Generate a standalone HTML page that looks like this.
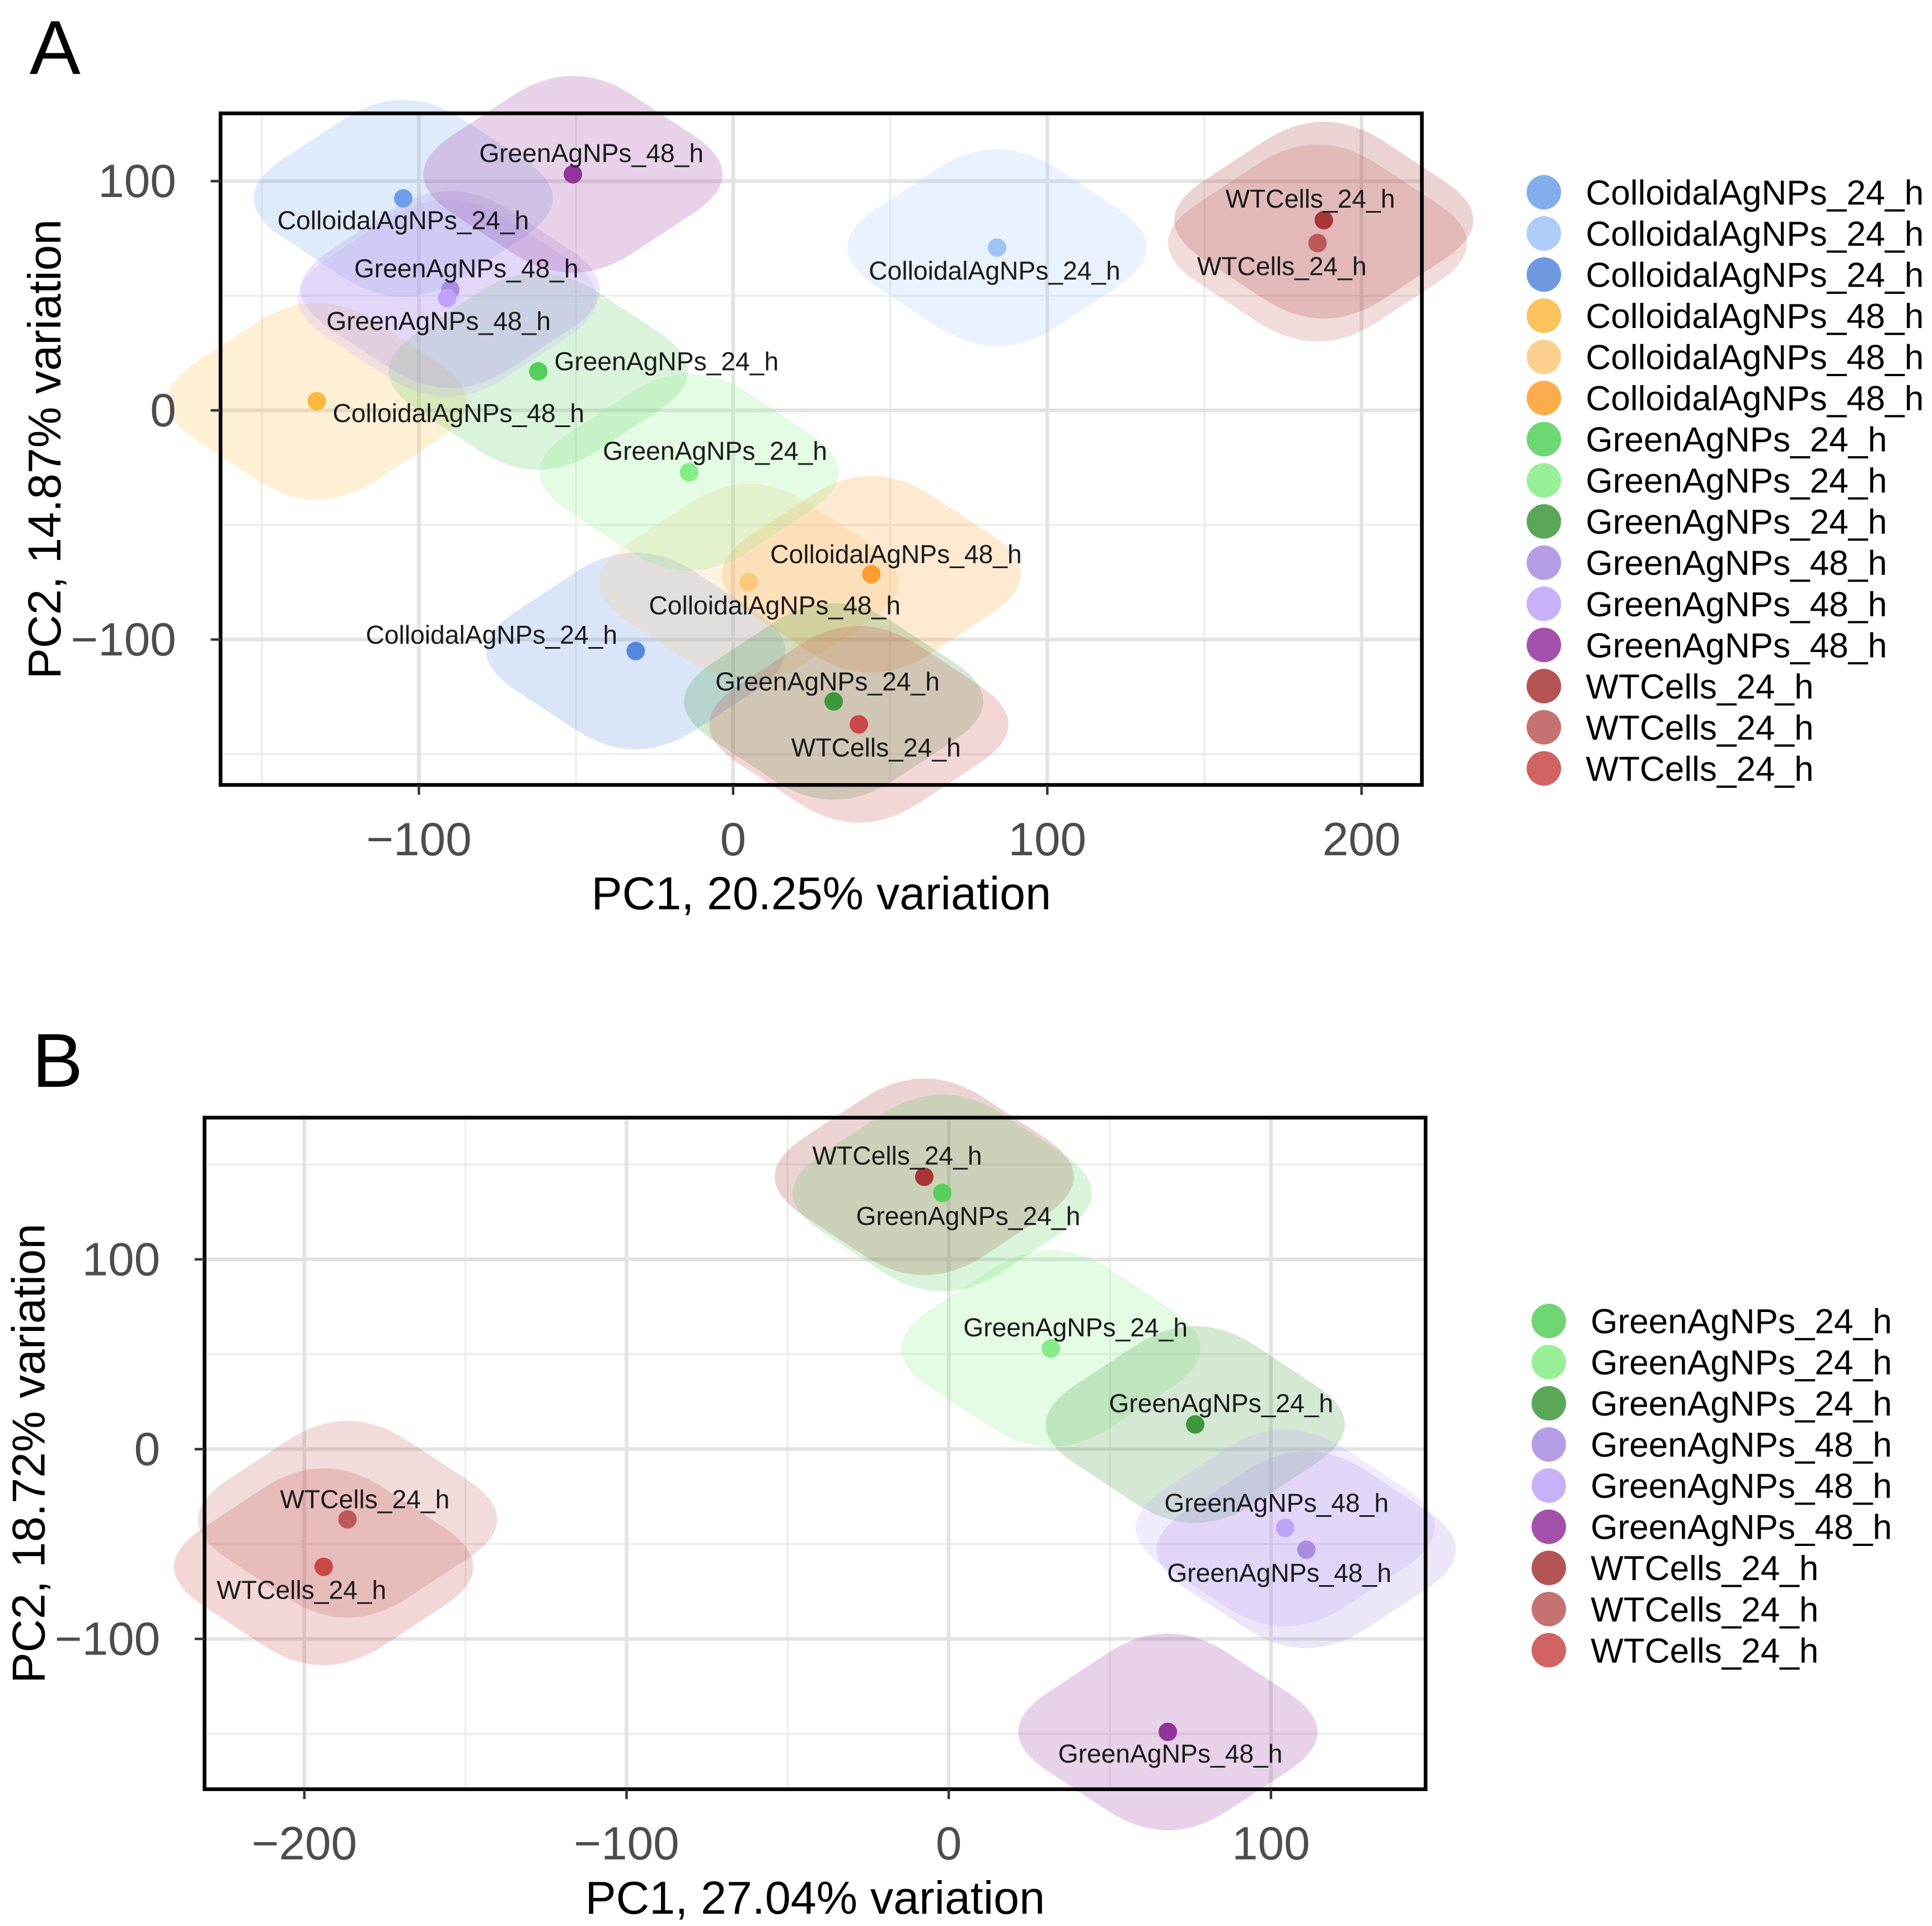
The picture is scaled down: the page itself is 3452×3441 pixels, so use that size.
<!DOCTYPE html>
<html><head><meta charset="utf-8"><style>
html,body{margin:0;padding:0;background:#fff;}
svg{display:block;font-family:"Liberation Sans",Arial,sans-serif;}
</style></head><body>
<svg id="chart" width="3452" height="3441" viewBox="0 0 1568 1563" xmlns="http://www.w3.org/2000/svg"></svg>
<script>
// Panel A data
const aGroups=["ColloidalAgNPs_24_h","ColloidalAgNPs_24_h","ColloidalAgNPs_24_h","ColloidalAgNPs_48_h","ColloidalAgNPs_48_h","ColloidalAgNPs_48_h","GreenAgNPs_24_h","GreenAgNPs_24_h","GreenAgNPs_24_h","GreenAgNPs_48_h","GreenAgNPs_48_h","GreenAgNPs_48_h","WTCells_24_h","WTCells_24_h","WTCells_24_h"];
const aColors=["#6f9fe8","#9fc3f5","#5688dd","#f9b93f","#fcc97c","#fa9f2e","#55cf5a","#86ec86","#3d983d","#a88de0","#bfa3f9","#93339c","#a83636","#bd5959","#c94848"];
const aPC1=[-105,84,-31,-132.5,5,44,-62,-14,32,-90,-91,-51,188,186,40];
const aPC2=[92.5,71,-105,4,-75,-71.5,17,-27,-127,52.7,49,103,83,73,-137];
const aLabDx=[0,-2,-117,115,21,20,104,21,-5,13,-7,15,-11,-29,14];
const aLabDy=[18,19,-13,10,19,-16,-8,-17,-16,-17,19,-17,-17,19,19];
const aXTicks=[-100,0,100,200];
const aYTicks=[100,0,-100];
// Panel B data
const bGroups=["WTCells_24_h","GreenAgNPs_24_h","GreenAgNPs_24_h","GreenAgNPs_24_h","GreenAgNPs_48_h","GreenAgNPs_48_h","GreenAgNPs_48_h","WTCells_24_h","WTCells_24_h"];
const bColorIdx=[6,0,1,2,4,3,5,7,8];
const bLegendColors=["#55cf5a","#86ec86","#3d983d","#a88de0","#bfa3f9","#93339c","#a83636","#bd5959","#c94848"];
const bLegendLabels=["GreenAgNPs_24_h","GreenAgNPs_24_h","GreenAgNPs_24_h","GreenAgNPs_48_h","GreenAgNPs_48_h","GreenAgNPs_48_h","WTCells_24_h","WTCells_24_h","WTCells_24_h"];
const bPC1=[-7.6,-2,31.7,76.5,104.4,111,68,-186.6,-194];
const bPC2=[143.5,135,53,13,-41.5,-53,-149,-37,-62];
const bLabDx=[-22,21,20,21,-7,-22,2,14,-18];
const bLabDy=[-17,19,-17,-17,-20,19,18,-16,19];
const bXTicks=[-200,-100,0,100];
const bYTicks=[100,0,-100];

const svg=document.getElementById('chart');
const NS="http://www.w3.org/2000/svg";
function mk(tag,attrs,parent,text){const e=document.createElementNS(NS,tag);for(const k in attrs)e.setAttribute(k,attrs[k]);if(text!==undefined)e.textContent=text;(parent||svg).appendChild(e);return e;}
function diamond(cx,cy,hw,hh,r){
  const t=r/Math.hypot(hw,hh);
  const P=[[cx,cy-hh],[cx+hw,cy],[cx,cy+hh],[cx-hw,cy]];
  let d="";
  for(let i=0;i<4;i++){const p=P[i],n=P[(i+1)%4],pr=P[(i+3)%4];
    const a=[p[0]+(pr[0]-p[0])*t*1.4,p[1]+(pr[1]-p[1])*t*1.4];
    const b=[p[0]+(n[0]-p[0])*t*1.4,p[1]+(n[1]-p[1])*t*1.4];
    d+=(i===0?"M":"L")+a[0]+","+a[1]+" Q"+p[0]+","+p[1]+" "+b[0]+","+b[1]+" ";}
  return d+"Z";
}
function panel(cfg){
  const g=mk('g',{});
  
  
  const X=v=>cfg.x0+v*cfg.sx, Y=v=>cfg.y0-v*cfg.sy;
  const grid=mk('g',{},g);
  
  
  cfg.xMinor.forEach(v=>mk('line',{x1:X(v),x2:X(v),y1:cfg.T,y2:cfg.B,stroke:'#ececec','stroke-width':1.5},grid));
  cfg.yMinor.forEach(v=>mk('line',{y1:Y(v),y2:Y(v),x1:cfg.L,x2:cfg.R,stroke:'#ececec','stroke-width':1.5},grid));
  cfg.xt.forEach(v=>mk('line',{x1:X(v),x2:X(v),y1:cfg.T,y2:cfg.B,stroke:'#e3e3e3','stroke-width':3},grid));
  cfg.yt.forEach(v=>mk('line',{y1:Y(v),y2:Y(v),x1:cfg.L,x2:cfg.R,stroke:'#e3e3e3','stroke-width':3},grid));
  const marks=mk('g',{},g);
  cfg.px.forEach((v,i)=>{const p=mk('path',{d:diamond(X(v),Y(cfg.py[i]),146,96,42),fill:cfg.col(i),'fill-opacity':0.22},marks);
    
    });
  cfg.px.forEach((v,i)=>{const c=mk('circle',{cx:X(v),cy:Y(cfg.py[i]),r:7.5,fill:cfg.col(i)},g);
    
    });
  cfg.px.forEach((v,i)=>{const t=mk('text',{x:X(v)+cfg.dx[i],y:Y(cfg.py[i])+cfg.dy[i]+7,'text-anchor':'middle','font-size':21,fill:'#1a1a1a'},g,cfg.groups[i]);
    
    });
  mk('rect',{x:cfg.L,y:cfg.T,width:cfg.R-cfg.L,height:cfg.B-cfg.T,fill:'none',stroke:'#000','stroke-width':3},g);
  cfg.xt.forEach(v=>{mk('line',{x1:X(v),x2:X(v),y1:cfg.B,y2:cfg.B+8,stroke:'#333','stroke-width':2},g);
    const t=mk('text',{x:X(v),y:cfg.B+57,'text-anchor':'middle','font-size':38,fill:'#4d4d4d'},g,v<0?'\u2212'+(-v):String(v));
    
    });
  cfg.yt.forEach(v=>{mk('line',{x1:cfg.L-8,x2:cfg.L,y1:Y(v),y2:Y(v),stroke:'#333','stroke-width':2},g);
    const t=mk('text',{x:cfg.L-36,y:Y(v)+13,'text-anchor':'end','font-size':38,fill:'#4d4d4d'},g,v<0?'\u2212'+(-v):String(v));
    
    });
  const xt=mk('text',{x:(cfg.L+cfg.R)/2,y:cfg.xtY,'text-anchor':'middle','font-size':37.5,fill:'#000'},g,cfg.xTitle);
  
  
  const yt=mk('text',{x:0,y:0,transform:`translate(${cfg.ytX},${(cfg.T+cfg.B)/2}) rotate(-90)`,'text-anchor':'middle','font-size':37.5,fill:'#000'},g,cfg.yTitle);
  
  
  const pl=mk('text',{x:cfg.letterX,y:cfg.letterY,'font-size':62,fill:'#000'},g,cfg.letter);
  
  
  const lg=mk('g',{},g);
  
  
  cfg.legLabels.forEach((s,i)=>{const y=cfg.legY+i*33.4;
    const c=mk('circle',{cx:cfg.legX,cy:y,r:14,fill:cfg.legColors[i],'fill-opacity':0.85},lg);
    
    
    const t=mk('text',{x:cfg.legX+34,y:y+10,'font-size':28.2,fill:'#000'},lg,s);
    
    });
}
panel({name:'panel-a',L:179,R:1154,T:92,B:637,x0:595,sx:2.55,y0:333,sy:1.86,
  xt:aXTicks,yt:aYTicks,xMinor:[-150,-50,50,150],yMinor:[50,-50,-150],
  px:aPC1,py:aPC2,dx:aLabDx,dy:aLabDy,groups:aGroups,col:i=>aColors[i],
  xTitle:'PC1, 20.25% variation',yTitle:'PC2, 14.87% variation',xtY:738,ytX:49,
  letter:'A',letterX:24,letterY:60,legX:1253,legY:156,legLabels:aGroups,legColors:aColors});
panel({name:'panel-b',L:166,R:1157,T:907,B:1452,x0:770,sx:2.615,y0:1176,sy:1.54,
  xt:bXTicks,yt:bYTicks,xMinor:[-150,-50,50],yMinor:[150,50,-50,-150],
  px:bPC1,py:bPC2,dx:bLabDx,dy:bLabDy,groups:bGroups,col:i=>bLegendColors[bColorIdx[i]],
  xTitle:'PC1, 27.04% variation',yTitle:'PC2, 18.72% variation',xtY:1553,ytX:36,
  letter:'B',letterX:26,letterY:882,legX:1257,legY:1072,legLabels:bLegendLabels,legColors:bLegendColors});
</script>
</body></html>
